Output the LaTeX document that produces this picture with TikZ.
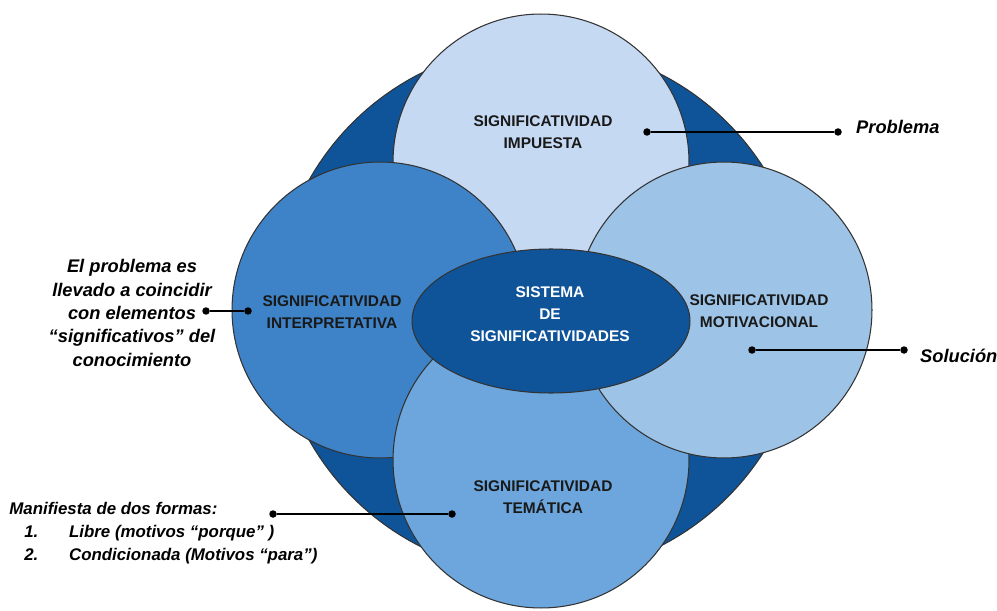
\documentclass[tikz,border=0pt]{standalone}
\usepackage{fontspec}
\setmainfont{Liberation Sans}
\usepackage{tikz}
\usetikzlibrary{positioning,shapes.geometric}

\definecolor{azuloscuro}{HTML}{0F5499}
\definecolor{azulimpuesta}{HTML}{C6D9F2}
\definecolor{azulinterp}{HTML}{3E82C7}
\definecolor{azulmotiv}{HTML}{9DC3E6}
\definecolor{azultema}{HTML}{6CA6DD}

\begin{document}
\begin{tikzpicture}[x=0.02cm, y=-0.02cm,
  circulo/.style={draw=black!80, line width=0.6pt, circle, minimum size=5.92cm, inner sep=0pt},
  titulo/.style={align=center, text=black!90, font=\bfseries\fontsize{8.8}{12.5}\selectfont},
  etiqueta/.style={font=\bfseries\itshape\fontsize{10.4}{13.3}\selectfont},
  punto/.style={circle, fill=black, inner sep=0pt, minimum size=0.15cm},
  conector/.style={line width=0.75pt}]
\useasboundingbox (0,0) rectangle (997,611);

% Circulos
\node[draw=black!80, line width=0.6pt, circle, fill=azuloscuro, minimum size=10.6cm, inner sep=0pt] (fondo) at (540,310) {};
\node[circulo, fill=azulimpuesta] (impuesta) at (541,162) {};
\node[circulo, fill=azulinterp] (interp) at (380,310) {};
\node[circulo, fill=azultema] (tematica) at (541,460) {};
\node[circulo, fill=azulmotiv] (motiv) at (724,310) {};
\node[draw=black!80, line width=0.6pt, ellipse, fill=azuloscuro, minimum width=5.56cm, minimum height=2.88cm, inner sep=0pt] (sistema) at (551,321) {};

% Textos
\node[titulo] (timpuesta) at (543,132) {SIGNIFICATIVIDAD\\IMPUESTA};
\node[titulo] (tinterp) at (332,312) {SIGNIFICATIVIDAD\\INTERPRETATIVA};
\node[titulo] (tmotiv) at (759,311) {SIGNIFICATIVIDAD\\MOTIVACIONAL};
\node[titulo] (ttematica) at (543,497) {SIGNIFICATIVIDAD\\TEMÁTICA};
\node[titulo, text=white] (tsistema) at (550,314) {SISTEMA\\DE\\SIGNIFICATIVIDADES};

% Etiquetas
\node[etiqueta, anchor=west] (problema) at (850,127) {Problema};
\node[etiqueta, anchor=west] (solucion) at (914,356) {Solución};
\node[etiqueta, align=center] (coincidir) at (132,313) {El problema es\\llevado a coincidir\\con elementos\\“significativos” del\\conocimiento};
\node[etiqueta, align=left, anchor=north west, inner sep=0pt,
  font=\bfseries\itshape\fontsize{9.6}{13}\selectfont] (formas) at (9,502)
  {Manifiesta de dos formas:\\
   \makebox[34pt][l]{\hspace*{8.5pt}1.}Libre (motivos “porque” )\\
   \makebox[34pt][l]{\hspace*{8.5pt}2.}Condicionada (Motivos “para”)};

% Puntos
\node[punto] (p1) at (647,132) {};
\node[punto] (p2) at (838,132) {};
\node[punto] (s1) at (752,350) {};
\node[punto] (s2) at (904,350) {};
\node[punto] (c1) at (206,311) {};
\node[punto] (c2) at (248,311) {};
\node[punto] (f1) at (273,514) {};
\node[punto] (f2) at (452,514) {};

% Conectores
\draw[conector] (p1) -- (p2);
\draw[conector] (s1) -- (s2);
\draw[conector] (c1) -- (c2);
\draw[conector] (f1) -- (f2);
\end{tikzpicture}
\end{document}
